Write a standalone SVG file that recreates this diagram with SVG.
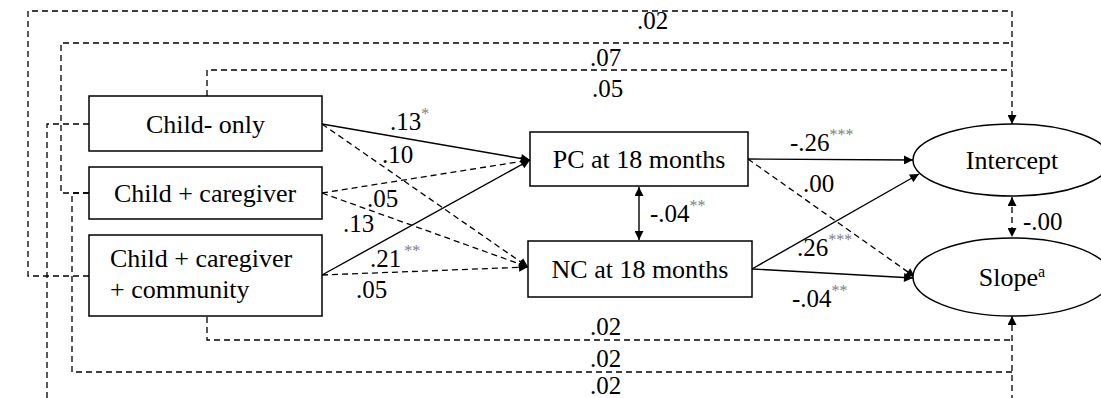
<svg xmlns="http://www.w3.org/2000/svg" width="1101" height="398" viewBox="0 0 1101 398">
<style>
  .node rect, .node ellipse { fill: #ffffff; stroke: #000000; stroke-width: 1.5; }
  text { font-family: "Liberation Serif", "DejaVu Serif", "Noto Serif", "Times New Roman", serif; }
  .nt { font-size: 26px; fill: #000000; }
  .lbl { font-size: 25px; fill: #000000; }
  .star { font-size: 16px; fill: #808080; }
  .supa { font-size: 16px; fill: #000000; }
  .solid { fill: none; stroke: #000000; stroke-width: 1.4; }
  .dash { fill: none; stroke: #000000; stroke-width: 1.3; stroke-dasharray: 6 4; }
</style>
<defs>
  <marker id="arr" viewBox="0 0 10 10" refX="10" refY="5" markerWidth="11" markerHeight="9" markerUnits="userSpaceOnUse" orient="auto">
    <path d="M0,0 L10,5 L0,10 Z" fill="#000000"/>
  </marker>
  <marker id="arrS" viewBox="0 0 10 10" refX="0" refY="5" markerWidth="11" markerHeight="9" markerUnits="userSpaceOnUse" orient="auto">
    <path d="M10,0 L0,5 L10,10 Z" fill="#000000"/>
  </marker>
</defs>

<g id="connectors">
  <path class="dash" d="M89,276 H28 V11 H1012 V124" marker-end="url(#arr)"/>
  <path class="dash" d="M89,193 H61 V43 H1012"/>
  <path class="dash" d="M207,96 V70 H1012"/>
  <path class="dash" d="M89,124 H47 V404 H1012 V316" marker-end="url(#arr)"/>
  <path class="dash" d="M89,193 H72 V372 H1012"/>
  <path class="dash" d="M207,317 V340 H1012"/>
  <path class="solid" d="M322,124 L530,160" marker-end="url(#arr)"/>
  <path class="dash" d="M322,124 L528,267" marker-end="url(#arr)"/>
  <path class="dash" d="M322,193 L530,160" marker-end="url(#arr)"/>
  <path class="dash" d="M322,193 L528,267" marker-end="url(#arr)"/>
  <path class="solid" d="M322,275 L530,160" marker-end="url(#arr)"/>
  <path class="dash" d="M322,275 L528,267" marker-end="url(#arr)"/>
  <path class="solid" d="M639,187 V240" marker-start="url(#arrS)" marker-end="url(#arr)"/>
  <path class="solid" d="M748,159 L913,160" marker-end="url(#arr)"/>
  <path class="dash" d="M748,159 L915,277" marker-end="url(#arr)"/>
  <path class="solid" d="M752,269 L919,174" marker-end="url(#arr)"/>
  <path class="solid" d="M752,269 L913,278" marker-end="url(#arr)"/>
  <path class="dash" d="M1012,197 V237" marker-start="url(#arrS)" marker-end="url(#arr)"/>

  <text class="lbl" x="637" y="29">.02</text>
  <text class="lbl" x="590" y="66">.07</text>
  <text class="lbl" x="592" y="97">.05</text>
  <text class="lbl" x="390" y="130">.13<tspan class="star" dy="-11">*</tspan></text>
  <text class="lbl" x="382" y="163">.10</text>
  <text class="lbl" x="367" y="207">.05</text>
  <text class="lbl" x="343" y="232">.13</text>
  <text class="lbl" x="370" y="267">.21<tspan class="star" dx="3" dy="-11">**</tspan></text>
  <text class="lbl" x="356" y="298">.05</text>
  <text class="lbl" x="650" y="222">-.04<tspan class="star" dy="-11">**</tspan></text>
  <text class="lbl" x="790" y="151">-.26<tspan class="star" dy="-11">***</tspan></text>
  <text class="lbl" x="803" y="192">.00</text>
  <text class="lbl" x="797" y="256">.26<tspan class="star" dy="-11">***</tspan></text>
  <text class="lbl" x="792" y="307">-.04<tspan class="star" dy="-11">**</tspan></text>
  <text class="lbl" x="1023" y="230">-.00</text>
  <text class="lbl" x="590" y="335">.02</text>
  <text class="lbl" x="590" y="367">.02</text>
  <text class="lbl" x="590" y="394">.02</text>
</g>

<g id="child-only" class="node">
  <rect x="89" y="96" width="233" height="55"/>
  <text class="nt" x="205.5" y="133" text-anchor="middle">Child- only</text>
</g>
<g id="child-caregiver" class="node">
  <rect x="89" y="167" width="233" height="52"/>
  <text class="nt" x="205" y="202" text-anchor="middle">Child + caregiver</text>
</g>
<g id="child-caregiver-community" class="node">
  <rect x="89" y="235" width="233" height="81"/>
  <text class="nt" x="110" y="267">Child + caregiver</text>
  <text class="nt" x="110" y="298">+ community</text>
</g>
<g id="pc" class="node">
  <rect x="530" y="132" width="218" height="54"/>
  <text class="nt" x="639" y="168" text-anchor="middle">PC at 18 months</text>
</g>
<g id="nc" class="node">
  <rect x="528" y="241" width="224" height="56"/>
  <text class="nt" x="640" y="278" text-anchor="middle">NC at 18 months</text>
</g>
<g id="intercept" class="node">
  <ellipse cx="1012" cy="160" rx="99" ry="36"/>
  <text class="nt" x="1012" y="169" text-anchor="middle">Intercept</text>
</g>
<g id="slope" class="node">
  <ellipse cx="1012" cy="277" rx="99" ry="39"/>
  <text class="nt" x="1012" y="286" text-anchor="middle">Slope<tspan class="supa" dy="-9">a</tspan></text>
</g>
</svg>
